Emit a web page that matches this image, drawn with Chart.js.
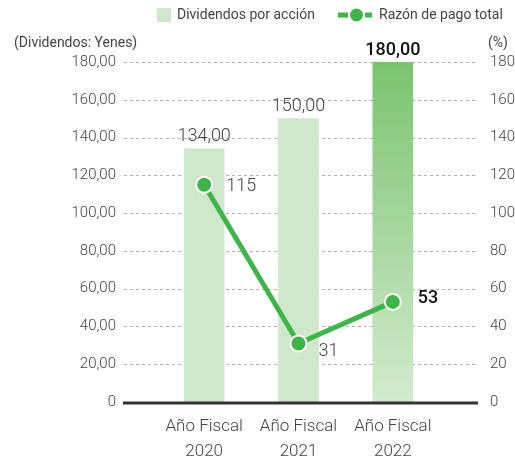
<!DOCTYPE html>
<html>
<head>
<meta charset="utf-8">
<script src="https://cdn.jsdelivr.net/npm/chart.js@4.4.0/dist/chart.umd.min.js"></script>
<style>
  html, body { margin: 0; padding: 0; background: #fff; }
  #wrap { width: 515px; height: 462px; position: relative; }
</style>
</head>
<body>
<div id="wrap"><canvas id="myChart" width="515" height="462"></canvas></div>
<script>
var years = ['2020', '2021', '2022'];
var yearLabels = ['Año Fiscal', 'Año Fiscal', 'Año Fiscal'];
var dividends = [134, 150, 180];
var payoutRatio = [115, 31, 53];
var dividendTicks = [0, 20, 40, 60, 80, 100, 120, 140, 160, 180];
var barName = 'Dividendos por acción';
var lineName = 'Razón de pago total';
var leftTitle = '(Dividendos: Yenes)';
var rightTitle = '(%)';

var fontName = 'Roboto, "DejaVu Sans", sans-serif';
var lightGreen = '#cfe8cb';
var lineGreen = '#3db54a';
var textGray = '#444';

function fmtYen(v) {
    if (v == 0) return '0';
    return v.toFixed(2).replace('.', ',');
}

function barColor(ctx) {
    var chart = ctx.chart;
    var area = chart.chartArea;
    if (ctx.dataIndex != 2 || !area) return lightGreen;
    var g = chart.ctx.createLinearGradient(0, area.top, 0, area.bottom);
    g.addColorStop(0, '#7bc46f');
    g.addColorStop(1, '#d3eacf');
    return g;
}

// fixed axis sizes, no extra label padding
function fixSize(w, h) {
    return function (s) {
        if (w) s.width = w;
        if (h) s.height = h;
        s.paddingTop = 0;
        s.paddingBottom = 0;
        s.paddingLeft = 0;
        s.paddingRight = 0;
    };
}

// dashed grid + baseline drawn wider than the category area
var gridPlugin = {
    id: 'wideGrid',
    beforeDatasetsDraw: function (chart) {
        var c = chart.ctx;
        var y = chart.scales.y;
        var x0 = 124, x1 = 478;
        c.save();
        c.strokeStyle = '#b0b0b0';
        c.lineWidth = 1;
        c.setLineDash([3, 3]);
        dividendTicks.forEach(function (t) {
            if (t == 0) return;
            var py = Math.round(y.getPixelForValue(t)) + 0.5;
            c.beginPath();
            c.moveTo(x0, py);
            c.lineTo(x1, py);
            c.stroke();
        });
        c.restore();
    },
    afterDatasetsDraw: function (chart) {
        var c = chart.ctx;
        var y = chart.scales.y;
        c.save();
        c.strokeStyle = '#333';
        c.lineWidth = 3;
        c.beginPath();
        c.moveTo(123, y.getPixelForValue(0) + 1);
        c.lineTo(478, y.getPixelForValue(0) + 1);
        c.stroke();
        c.restore();
    },
    afterDraw: function (chart) {
        var c = chart.ctx;
        c.save();
        c.textBaseline = 'middle';

        // bar value labels
        var barMeta = chart.getDatasetMeta(1);
        c.textAlign = 'center';
        barMeta.data.forEach(function (el, i) {
            var last = i == dividends.length - 1;
            c.font = (last ? '500 ' : '300 ') + '18px ' + fontName;
            c.fillStyle = last ? '#111' : textGray;
            c.fillText(fmtYen(dividends[i]), el.x, el.y - 12);
        });

        // line value labels
        var lineMeta = chart.getDatasetMeta(0);
        var offs = [[22, 2], [20, 8], [25, -3]];
        c.textAlign = 'left';
        lineMeta.data.forEach(function (el, i) {
            var last = i == payoutRatio.length - 1;
            c.font = (last ? '500 ' : '300 ') + '18px ' + fontName;
            c.fillStyle = last ? '#111' : textGray;
            c.fillText(String(payoutRatio[i]), el.x + offs[i][0], el.y + offs[i][1]);
        });

        // axis titles
        c.font = '14px ' + fontName;
        c.fillStyle = textGray;
        c.textAlign = 'left';
        c.fillText(leftTitle, 14, 43);
        c.fillText(rightTitle, 488, 43);

        // legend
        c.fillStyle = lightGreen;
        c.fillRect(157, 8, 14, 14);
        c.fillStyle = textGray;
        c.fillText(barName, 177, 15);
        c.strokeStyle = lineGreen;
        c.lineWidth = 5;
        c.beginPath();
        c.moveTo(338, 15);
        c.lineTo(348, 15);
        c.moveTo(365, 15);
        c.lineTo(372, 15);
        c.stroke();
        c.fillStyle = lineGreen;
        c.beginPath();
        c.arc(356.5, 15, 6.5, 0, Math.PI * 2);
        c.fill();
        c.fillStyle = textGray;
        c.fillText(lineName, 379, 15);
        c.restore();
    }
};

var ctx = document.getElementById('myChart').getContext('2d');
var myChart = new Chart(ctx, {
    type: 'bar',
    data: {
        labels: years.map(function (y, i) { return [yearLabels[i], y]; }),
        datasets: [{
            type: 'line',
            label: lineName,
            data: payoutRatio,
            yAxisID: 'y1',
            borderColor: lineGreen,
            borderWidth: 5,
            pointRadius: 8,
            pointBackgroundColor: lineGreen,
            pointBorderColor: '#fff',
            pointBorderWidth: 2,
            tension: 0,
            order: 0
        }, {
            type: 'bar',
            label: barName,
            data: dividends,
            yAxisID: 'y',
            backgroundColor: barColor,
            barThickness: 40,
            order: 1
        }]
    },
    options: {
        responsive: false,
        animation: false,
        events: [],
        layout: { padding: { top: 62, left: 0, right: 0, bottom: 0 } },
        plugins: { legend: { display: false }, tooltip: { enabled: false } },
        scales: {
            x: {
                offset: true,
                grid: { display: false, drawTicks: false },
                border: { display: false },
                ticks: {
                    padding: 12,
                    color: textGray,
                    font: { family: fontName, size: 17, weight: 300, lineHeight: 1.47 }
                },
                afterFit: fixSize(0, 60)
            },
            y: {
                position: 'left',
                min: 0,
                max: 180,
                grid: { display: false, drawTicks: false },
                border: { display: false },
                ticks: {
                    stepSize: 20,
                    padding: 41,
                    color: textGray,
                    font: { family: fontName, size: 15, weight: 300 },
                    callback: function (v) { return fmtYen(v); }
                },
                afterFit: fixSize(157, 0)
            },
            y1: {
                position: 'right',
                min: 0,
                max: 180,
                grid: { display: false, drawTicks: false },
                border: { display: false },
                ticks: {
                    stepSize: 20,
                    padding: 50,
                    color: textGray,
                    font: { family: fontName, size: 15, weight: 300 }
                },
                afterFit: fixSize(75, 0)
            }
        }
    },
    plugins: [gridPlugin]
});
</script>
</body>
</html>
